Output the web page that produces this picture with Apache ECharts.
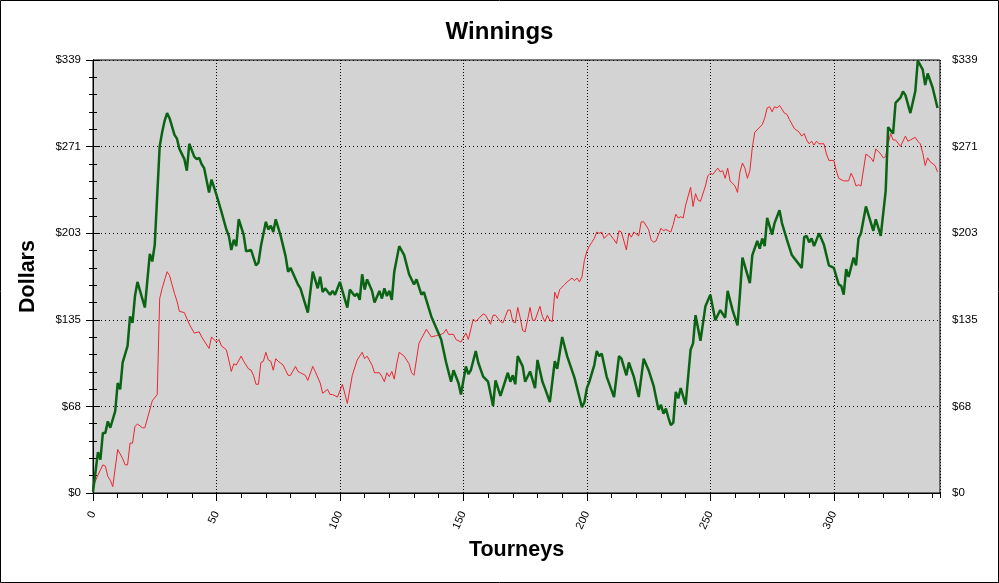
<!DOCTYPE html>
<html>
<head>
<meta charset="utf-8">
<script src="https://cdn.jsdelivr.net/npm/echarts@6/dist/echarts.min.js"></script>
<style>
html,body{margin:0;padding:0;background:#fff;}
#chart{width:999px;height:583px;}
</style>
</head>
<body>
<div id="chart"></div>
<script>
const greenTourneys = [
  0,2,3,4,5,6,7,9,10,11,
  12,14,15,16,17,18,21,23,24,25,
  27,28,29,30,31,33,34,35,37,38,
  39,41,42,43,44,45,47,48,50,52,
  54,55,56,57,58,59,61,62,64,66,
  67,68,70,71,72,73,74,76,78,79,
  80,83,84,87,89,91,92,93,94,96,
  97,98,100,101,103,104,106,107,108,109,
  110,111,113,114,116,117,118,119,120,121,
  122,124,126,128,130,131,133,134,137,141,
  143,145,146,148,149,151,152,153,155,156,
  158,160,162,163,165,168,169,170,171,172,
  174,175,177,179,180,182,183,185,187,188,
  190,192,195,198,199,200,201,203,204,205,
  206,208,211,213,214,216,217,219,221,223,
  225,227,229,230,231,232,233,234,235,236,
  237,238,240,242,243,244,246,248,250,252,
  254,256,257,259,261,262,263,266,267,269,
  270,271,272,273,275,276,278,279,281,283,
  287,288,289,290,291,292,294,296,298,300,
  302,303,304,305,306,308,309,310,311,313,
  316,317,319,321,322,324,325,327,328,329,
  331,333,334,336,337,338,340,342
];
const greenDollars = [
  1,32,26,47,47,56,51,64,86,81,
  102,115,138,133,154,165,145,187,181,194,
  271,282,291,297,293,280,277,269,261,252,
  273,263,261,262,257,254,235,245,233,220,
  206,201,190,198,193,214,202,189,190,178,
  180,193,212,206,209,204,214,201,185,173,
  176,163,160,141,173,160,169,157,160,155,
  158,155,165,158,145,159,154,156,151,171,
  159,167,158,149,158,152,160,154,158,151,
  173,193,186,171,163,167,155,157,138,120,
  102,87,96,86,77,99,93,96,111,102,
  91,87,68,88,76,94,87,92,85,107,
  99,87,95,82,104,87,82,71,103,97,
  122,107,90,67,71,82,87,100,111,107,
  109,91,75,107,105,92,102,91,75,105,
  96,84,65,69,62,66,59,53,55,79,
  74,82,69,112,117,139,119,146,155,135,
  143,137,158,143,131,156,184,164,186,197,
  191,199,193,215,202,211,221,211,198,186,
  176,200,201,196,199,193,203,194,178,176,
  163,162,155,175,169,184,178,199,203,224,
  205,214,201,236,286,281,305,309,314,311,
  297,314,338,331,319,328,317,301
];
const redTourneys = [
  0,2,4,5,6,7,8,10,12,13,
  14,15,16,17,18,20,21,23,24,26,
  27,28,30,31,32,33,34,35,37,39,
  41,43,44,47,48,50,51,52,54,55,
  56,57,58,60,61,63,64,65,66,67,
  68,69,70,71,72,73,74,75,77,78,
  79,80,82,83,84,86,87,89,90,92,
  93,95,96,97,99,101,103,105,107,109,
  110,111,113,114,116,117,118,119,120,121,
  122,123,124,126,128,129,130,132,135,136,
  137,139,141,142,143,144,146,147,149,151,
  152,154,155,156,158,159,161,162,163,165,
  166,168,169,170,171,172,173,174,175,177,
  178,179,181,182,183,184,185,186,187,188,
  189,191,192,194,195,196,197,198,199,200,
  201,202,203,204,205,206,207,209,211,212,
  213,214,216,217,218,219,221,222,223,225,
  226,227,228,230,231,232,233,234,235,236,
  237,238,239,240,242,243,244,245,246,248,
  249,250,251,253,254,255,256,257,258,260,
  261,262,263,264,265,266,267,268,271,272,
  273,274,275,276,277,278,279,280,281,282,
  284,286,287,288,289,290,291,292,293,294,
  296,297,298,300,301,302,304,306,307,308,
  309,310,311,313,315,316,317,319,320,321,
  322,323,324,325,327,329,330,331,333,334,
  335,336,337,338,339,341,342
];
const redDollars = [
  5,14,22,21,13,10,5,34,27,22,
  22,39,39,52,54,51,51,65,72,77,
  152,160,173,170,163,156,150,142,141,132,
  125,126,122,113,122,118,120,115,112,104,
  95,101,100,107,103,97,96,92,85,85,
  102,103,110,104,103,96,105,103,100,96,
  92,92,99,95,94,92,88,99,95,86,
  78,81,77,77,75,85,70,92,104,110,
  105,107,100,94,94,91,87,94,91,95,
  89,101,110,107,101,94,92,117,128,125,
  122,123,124,125,128,124,124,120,118,125,
  120,136,134,136,140,139,132,139,139,134,
  133,143,143,134,133,145,137,127,126,145,
  135,135,146,138,134,139,135,134,157,152,
  159,163,165,168,166,168,165,169,182,189,
  193,196,199,204,203,204,199,203,198,195,
  205,204,190,203,200,204,201,212,212,206,
  198,196,197,207,205,206,205,204,210,218,
  215,216,215,225,239,224,234,229,228,240,
  248,250,249,254,251,252,246,254,244,240,
  235,251,258,254,246,252,270,282,288,293,
  301,302,298,302,301,303,300,297,296,292,
  285,282,279,281,276,273,275,272,275,273,
  273,265,260,260,252,246,244,244,250,246,
  240,241,240,265,262,259,269,265,262,263,
  273,281,276,276,271,279,275,276,278,275,
  273,266,256,262,259,256,251
];
const yTickLabels = ['$0','$68','$135','$203','$271','$339'];
const xTickLabels = ['0','50','100','150','200','250','300'];

const Y_MAX = 338.5, Y_STEP = 67.7, X_MAX = 343;
const FONT = '"Liberation Sans", Arial, sans-serif';

function zip(a, b) { return a.map((t, i) => [t, b[i]]); }

const chart = echarts.init(document.getElementById('chart'), null, {renderer: 'canvas'});

const gridRect = {left: 93, right: 59, top: 60, bottom: 90};

const yLabelFmt = v => { const i = Math.round(v / Y_STEP); return yTickLabels[i] !== undefined ? yTickLabels[i] : ''; };
const xLabelFmt = v => { const i = Math.round(v / 50); return (Math.abs(v - i * 50) < 1e-6 && xTickLabels[i] !== undefined) ? xTickLabels[i] : ''; };

const option = {
  animation: false,
  backgroundColor: '#ffffff',
  title: {
    text: 'Winnings',
    left: 'center',
    top: 15,
    textStyle: {fontFamily: FONT, fontSize: 24, fontWeight: 'bold', color: '#000'}
  },
  graphic: [{
    type: 'rect', silent: true, z: 100,
    shape: {x: 0.5, y: 0.5, width: 998, height: 582},
    style: {fill: 'none', stroke: '#000', lineWidth: 1}
  }],
  grid: [
    Object.assign({show: true, backgroundColor: '#d3d3d3', borderColor: '#000', borderWidth: 1}, gridRect),
    Object.assign({show: false}, gridRect)
  ],
  xAxis: [
    {
      type: 'value', gridIndex: 0, position: 'bottom', min: 0, max: X_MAX, interval: 50,
      name: 'Tourneys', nameLocation: 'middle', nameGap: 46,
      nameTextStyle: {fontFamily: FONT, fontSize: 21.5, fontWeight: 'bold', color: '#000'},
      axisLine: {show: true, lineStyle: {color: '#000', width: 1}},
      axisTick: {show: true, length: 8, lineStyle: {color: '#000'}},
      axisLabel: {show: true, rotate: 65, margin: 19, fontFamily: FONT, fontSize: 11, color: '#000',
                  showMaxLabel: false, formatter: xLabelFmt},
      splitLine: {show: true, lineStyle: {color: '#000', type: [1, 2], width: 1}}
    },
    {
      type: 'value', gridIndex: 0, position: 'top', min: 0, max: X_MAX, interval: 10,
      axisLine: {show: true, lineStyle: {color: '#000', width: 1}},
      axisTick: {show: true, inside: true, length: 4, lineStyle: {color: '#000'}},
      axisLabel: {show: false},
      splitLine: {show: false}
    },
    {
      type: 'value', gridIndex: 1, position: 'bottom', min: 0, max: X_MAX, interval: 10,
      axisLine: {show: false},
      axisTick: {show: true, length: 5, lineStyle: {color: '#000'}},
      axisLabel: {show: false},
      splitLine: {show: false}
    }
  ],
  yAxis: [
    {
      type: 'value', gridIndex: 0, position: 'left', min: 0, max: Y_MAX, interval: Y_STEP,
      name: 'Dollars', nameLocation: 'middle', nameGap: 54, nameRotate: 90,
      nameTextStyle: {fontFamily: FONT, fontSize: 21.5, fontWeight: 'bold', color: '#000'},
      axisLine: {show: true, lineStyle: {color: '#000', width: 1}},
      axisTick: {show: true, length: 7, lineStyle: {color: '#000'}},
      minorTick: {show: true, splitNumber: 5, length: 4, lineStyle: {color: '#000'}},
      axisLabel: {show: true, margin: 12, fontFamily: FONT, fontSize: 11.5, color: '#000', formatter: yLabelFmt},
      splitLine: {show: true, lineStyle: {color: '#000', type: [1, 3], width: 1}}
    },
    {
      type: 'value', gridIndex: 0, position: 'right', min: 0, max: Y_MAX, interval: Y_STEP,
      axisLine: {show: true, lineStyle: {color: '#000', width: 1}},
      axisTick: {show: true, length: 7, lineStyle: {color: '#000'}},
      minorTick: {show: true, splitNumber: 5, length: 4, lineStyle: {color: '#000'}},
      axisLabel: {show: true, margin: 12, fontFamily: FONT, fontSize: 11.5, color: '#000', formatter: yLabelFmt},
      splitLine: {show: false}
    },
    {
      type: 'value', gridIndex: 1, min: 0, max: 1, show: false
    }
  ],
  series: [
    {
      name: 'Red', type: 'line', xAxisIndex: 0, yAxisIndex: 0,
      data: zip(redTourneys, redDollars),
      showSymbol: false, symbol: 'none',
      lineStyle: {color: '#ec2530', width: 1},
      z: 3
    },
    {
      name: 'Green', type: 'line', xAxisIndex: 0, yAxisIndex: 0,
      data: zip(greenTourneys, greenDollars),
      showSymbol: false, symbol: 'none',
      lineStyle: {color: '#0a6414', width: 2.5},
      z: 4
    }
  ]
};
chart.setOption(option);
</script>
</body>
</html>
